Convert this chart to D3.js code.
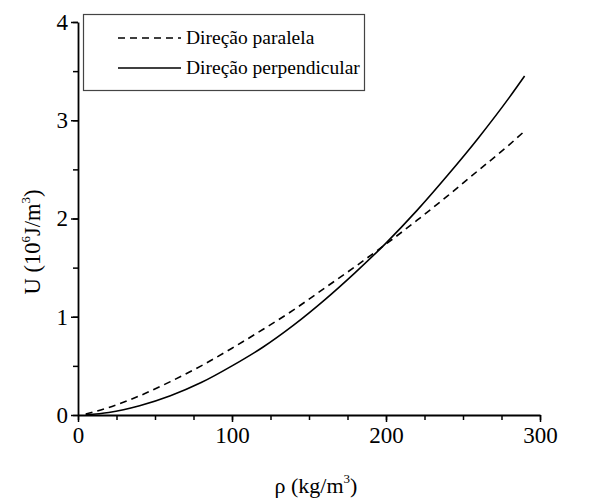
<!DOCTYPE html>
<html>
<head>
<meta charset="utf-8">
<script src="https://cdn.jsdelivr.net/npm/d3@7"></script>
<style>
  body { margin: 0; background: #fff; }
  svg { display: block; font-family: 'Liberation Serif', 'Times New Roman', serif; }
</style>
</head>
<body>
<script>
// densidade (kg/m3)
const rho = [5, 20, 40, 60, 80, 100, 120, 140, 160, 180, 200, 220, 240, 260, 280, 290]
// U (10^6 J/m3)
const paralela      = [0.01, 0.076, 0.195, 0.34, 0.50, 0.68, 0.87, 1.07, 1.29, 1.51, 1.74, 1.98, 2.23, 2.49, 2.75, 2.89]
const perpendicular = [0.002, 0.026, 0.094, 0.196, 0.33, 0.50, 0.69, 0.915, 1.17, 1.45, 1.75, 2.08, 2.44, 2.82, 3.23, 3.45]

const series = [
  { name: 'Direção paralela', values: paralela, dash: '7,5' },
  { name: 'Direção perpendicular', values: perpendicular, dash: null }
]

const xTicks = [0, 100, 200, 300]
const yTicks = [0, 1, 2, 3, 4]

const width = 597, height = 500
const serif = 'Liberation Serif'

let svg = d3.select('body').append('svg')
  .attr('width', width)
  .attr('height', height)

let x = d3.scaleLinear().domain([0, 300]).range([78, 540])
let y = d3.scaleLinear().domain([0, 4]).range([415, 22])

// minor ticks
svg.append('g')
  .attr('transform', `translate(0,${y(0)})`)
  .call(d3.axisBottom(x).tickValues(d3.range(0, 301, 25)).tickSize(5).tickFormat(''))
  .call(g => g.select('.domain').remove())
  .call(g => g.selectAll('line').attr('stroke-width', 1.5))

svg.append('g')
  .attr('transform', `translate(${x(0)},0)`)
  .call(d3.axisLeft(y).tickValues(d3.range(0, 4.01, 0.5)).tickSize(5).tickFormat(''))
  .call(g => g.select('.domain').remove())
  .call(g => g.selectAll('line').attr('stroke-width', 1.5))

// major ticks + labels
let xAxis = svg.append('g')
  .attr('transform', `translate(0,${y(0)})`)
  .call(d3.axisBottom(x).tickValues(xTicks).tickSize(7).tickSizeOuter(0).tickPadding(5).tickFormat(d3.format('d')))
xAxis.select('.domain').attr('stroke-width', 1.8)
xAxis.selectAll('line').attr('stroke-width', 1.5)
xAxis.selectAll('text').attr('font-size', 23).attr('font-family', serif).attr('fill', '#000')

let yAxis = svg.append('g')
  .attr('transform', `translate(${x(0)},0)`)
  .call(d3.axisLeft(y).tickValues(yTicks).tickSize(7).tickSizeOuter(0).tickPadding(3).tickFormat(d3.format('d')))
yAxis.select('.domain').attr('stroke-width', 1.8)
yAxis.selectAll('line').attr('stroke-width', 1.5)
yAxis.selectAll('text').attr('font-size', 23).attr('font-family', serif).attr('fill', '#000')

// curves
let line = d3.line()
  .x((d, i) => x(rho[i]))
  .y(d => y(d))
  .curve(d3.curveMonotoneX)

svg.append('g').selectAll('path')
  .data(series)
  .join('path')
    .attr('d', d => line(d.values))
    .attr('fill', 'none')
    .attr('stroke', '#000')
    .attr('stroke-width', 1.6)
    .attr('stroke-dasharray', d => d.dash)

// legend
let legend = svg.append('g')
legend.append('rect')
  .attr('x', 83.5).attr('y', 14.5)
  .attr('width', 281).attr('height', 76)
  .attr('fill', '#fff')
  .attr('stroke', '#444')
  .attr('stroke-width', 1.2)

let item = legend.selectAll('g.item')
  .data(series)
  .join('g')
    .classed('item', true)
    .attr('transform', (d, i) => `translate(0,${38 + i * 30})`)

item.append('line')
  .attr('x1', 118).attr('x2', 181)
  .attr('stroke', '#000')
  .attr('stroke-width', 1.5)
  .attr('stroke-dasharray', d => d.dash)

item.append('text')
  .attr('x', 186)
  .attr('dy', '0.33em')
  .attr('font-size', 19.5)
  .text(d => d.name)

// axis titles
let xt = svg.append('text')
  .attr('x', 316).attr('y', 493)
  .attr('text-anchor', 'middle')
  .attr('font-size', 22)
xt.append('tspan').text('ρ (kg/m')
xt.append('tspan').attr('font-size', 13).attr('dy', -10).text('3')
xt.append('tspan').attr('dy', 10).text(')')

let yt = svg.append('text')
  .attr('transform', 'translate(40,242) rotate(-90)')
  .attr('text-anchor', 'middle')
  .attr('font-size', 22.5)
yt.append('tspan').text('U (10')
yt.append('tspan').attr('font-size', 13).attr('dy', -10).text('6')
yt.append('tspan').attr('dy', 10).text('J/m')
yt.append('tspan').attr('font-size', 13).attr('dy', -10).text('3')
yt.append('tspan').attr('dy', 10).text(')')
</script>
</body>
</html>
